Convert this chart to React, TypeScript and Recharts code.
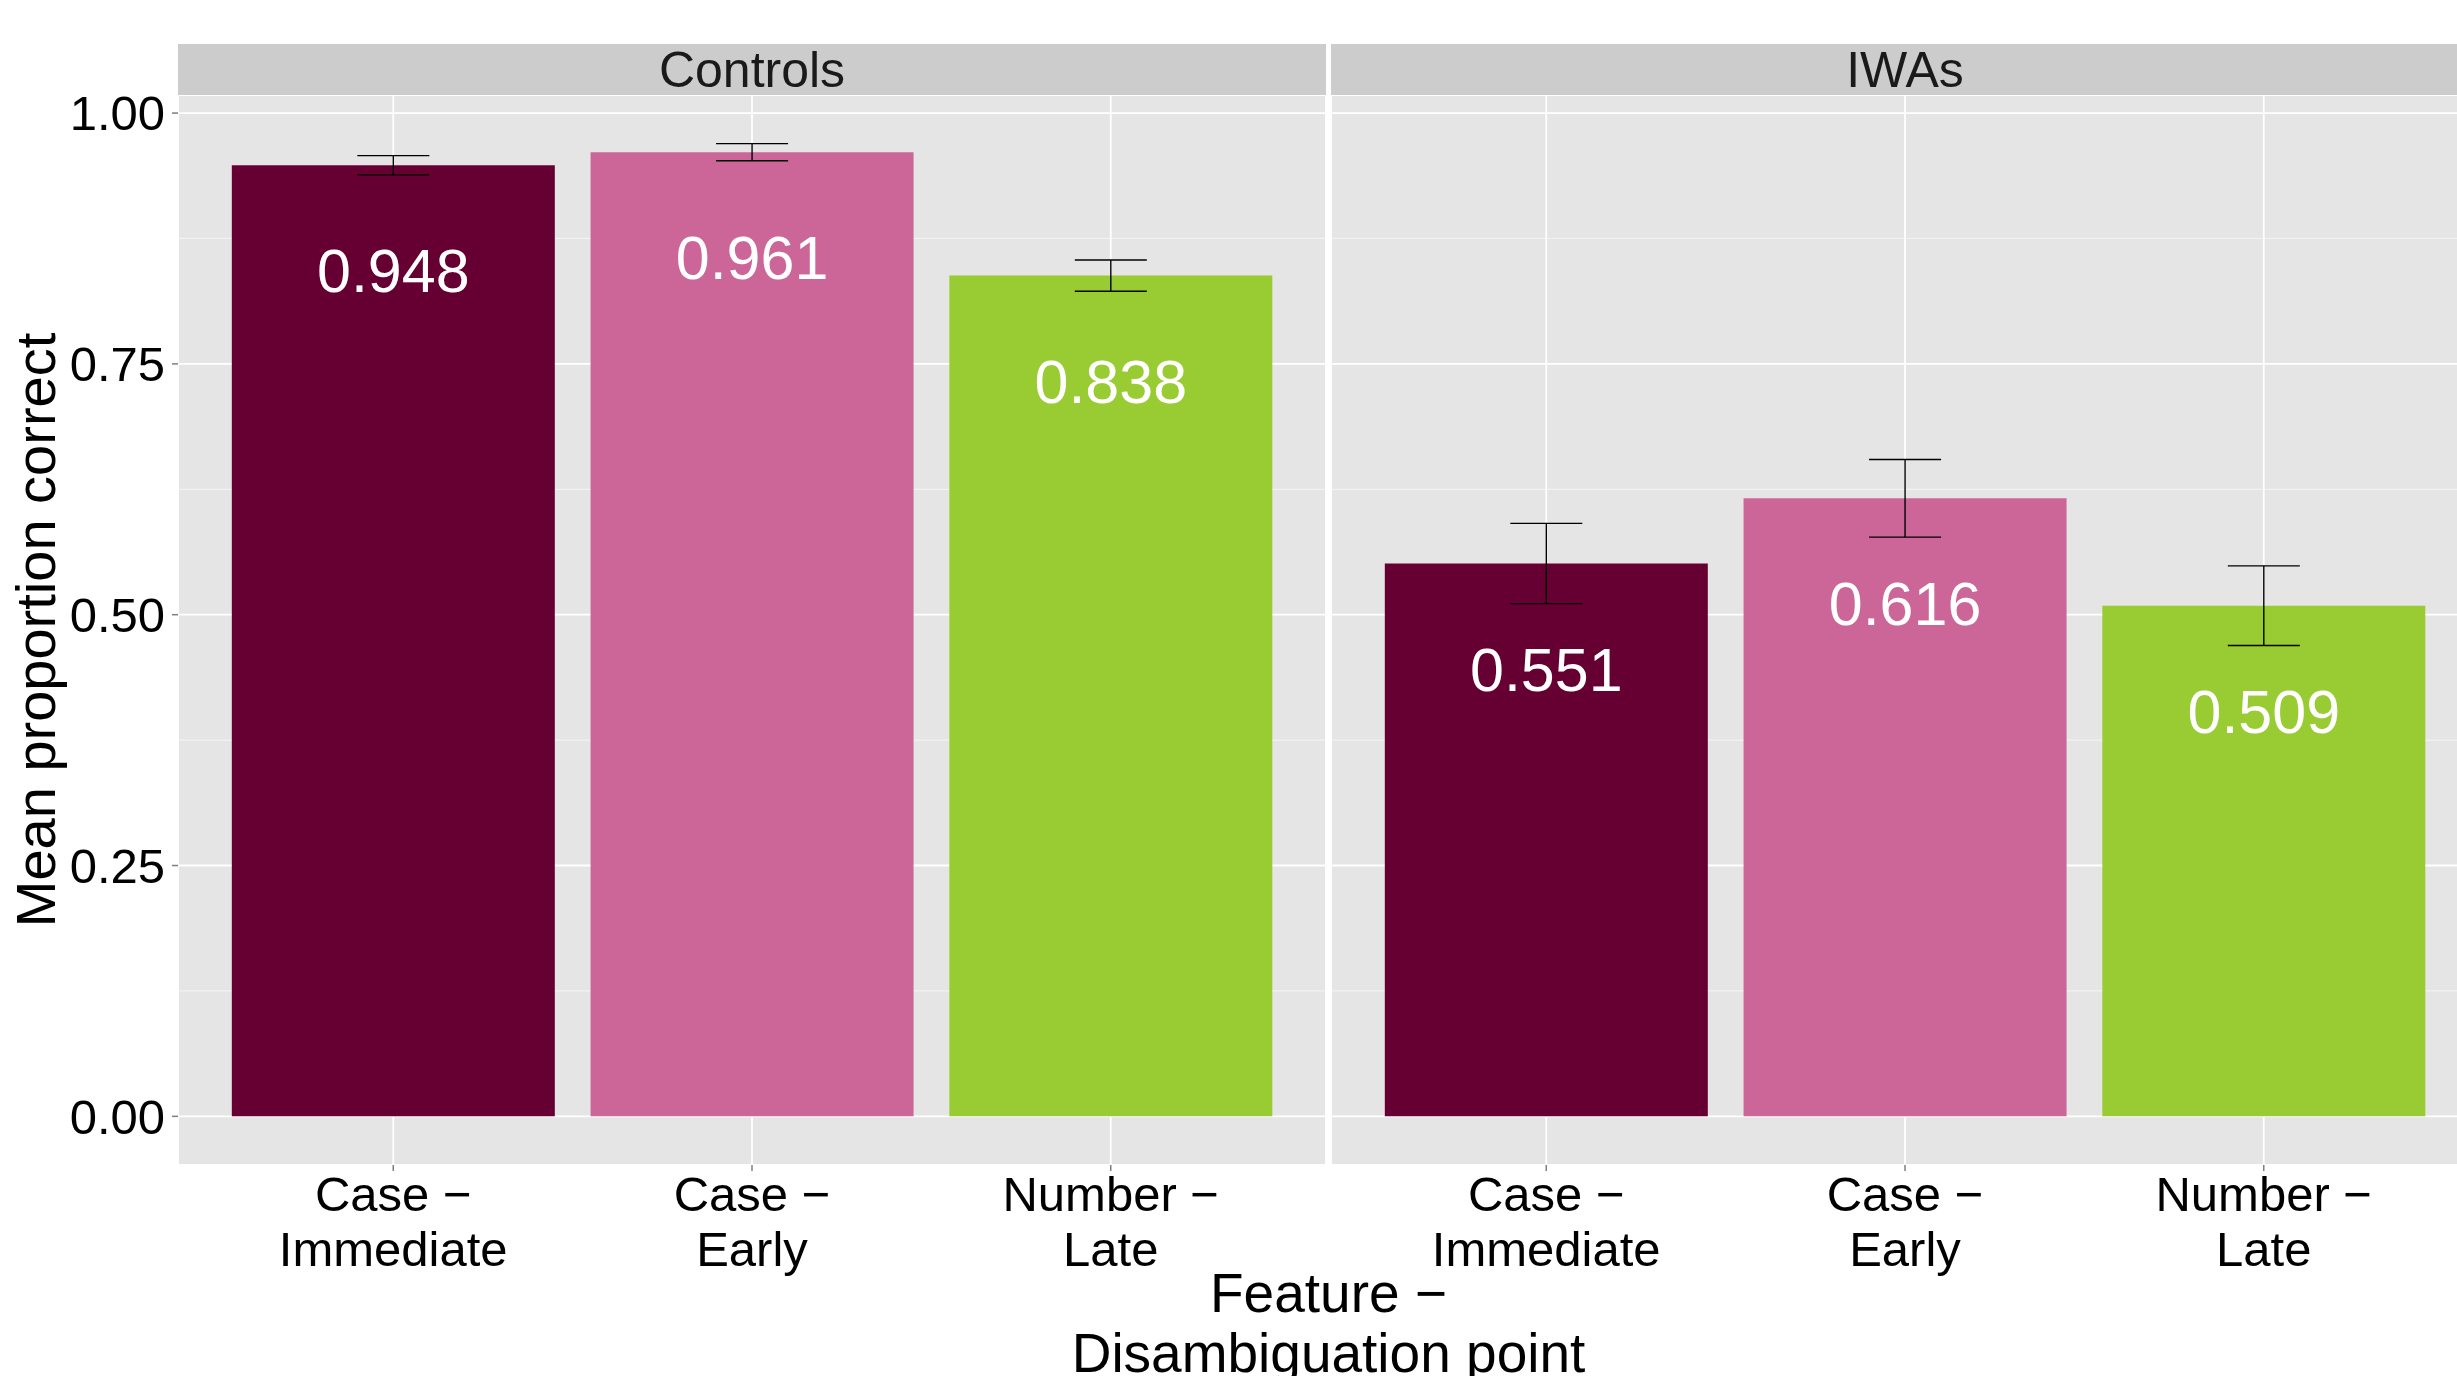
import {
  Bar,
  BarChart,
  CartesianGrid,
  Cell,
  ErrorBar,
  LabelList,
  XAxis,
  YAxis,
} from "recharts";

const features = ["Case −\nImmediate", "Case −\nEarly", "Number −\nLate"];
const groups = ["Controls", "IWAs"];
const controlsMeans = [0.948, 0.961, 0.838];
const controlsErrors = [0.0096, 0.0085, 0.0156];
const iwasMeans = [0.551, 0.616, 0.509];
const iwasErrors = [0.04, 0.0387, 0.0397];
const barColors = ["#660033", "#CC6699", "#99CC33"];
const yTicks = [0, 0.25, 0.5, 0.75, 1];
const yMinorTicks = [0.125, 0.375, 0.625, 0.875];
const yDomain = [-0.0485, 1.018];

const FONT = '"Liberation Sans", Arial, Helvetica, sans-serif';
const W = 2457;
const H = 1376;
const AXIS_W = 178;
const PANEL_W = 1148;
const PANEL_TOP = 95;
const PANEL_BOTTOM = 1165;
const panelLefts = [178, 1331];

const FeatureTick = (props: any) => {
  const { x, y, payload } = props;
  const lines = String(payload.value).split("\n");
  return (
    <text x={x} y={y} textAnchor="middle" fontSize={49} fontFamily={FONT} fill="#000">
      {lines.map((l, i) => (
        <tspan key={i} x={x} dy={i === 0 ? 40 : 55}>
          {l}
        </tspan>
      ))}
    </text>
  );
};

const ValueLabel = (props: any) => {
  const { x, y, width, value } = props;
  return (
    <text
      x={Number(x) + Number(width) / 2}
      y={Number(y) + 127}
      textAnchor="middle"
      fill="#fff"
      fontSize={61}
      fontFamily={FONT}
    >
      {Number(value).toFixed(3)}
    </text>
  );
};

// minor gridlines, placed through the y scale (fallback: linear map of the domain)
const minorLines = (props: any) => {
  const scale = props?.yAxis?.scale;
  if (typeof scale === "function") return yMinorTicks.map((t) => scale(t));
  const off = props?.offset;
  if (!off) return [];
  const span = yDomain[1] - yDomain[0];
  return yMinorTicks.map((t) => off.top + (off.height * (yDomain[1] - t)) / span);
};

const Facet = ({ means, errors, showY }: { means: number[]; errors: number[]; showY: boolean }) => {
  const data = features.map((f, i) => ({ feature: f, mean: means[i], err: errors[i] }));

  return (
    <BarChart
      width={PANEL_W + (showY ? AXIS_W : 0)}
      height={H}
      data={data}
      margin={{ top: PANEL_TOP, right: 0, bottom: 0, left: 0 }}
      barCategoryGap="5%"
    >
      <CartesianGrid
        fill="#E5E5E5"
        stroke="#F2F2F2"
        strokeWidth={1.2}
        vertical={false}
        horizontalCoordinatesGenerator={minorLines}
      />
      <CartesianGrid stroke="#FFFFFF" strokeWidth={1.8} />
      <XAxis
        dataKey="feature"
        height={H - PANEL_BOTTOM}
        padding={{ left: 35.875, right: 35.875 }}
        interval={0}
        tickSize={6}
        tickMargin={0}
        axisLine={false}
        tickLine={{ stroke: "#7F7F7F", strokeWidth: 1.5 }}
        tick={<FeatureTick />}
      />
      <YAxis
        type="number"
        domain={yDomain}
        allowDataOverflow
        ticks={yTicks}
        width={AXIS_W}
        hide={!showY}
        tickFormatter={(v: number) => v.toFixed(2)}
        tick={{ fontSize: 49, fill: "#000", fontFamily: FONT }}
        tickSize={6}
        tickMargin={7}
        axisLine={false}
        tickLine={{ stroke: "#7F7F7F", strokeWidth: 1.5 }}
      />
      <Bar dataKey="mean" isAnimationActive={false}>
        {data.map((d, i) => (
          <Cell key={d.feature} fill={barColors[i]} />
        ))}
        <ErrorBar dataKey="err" width={36} stroke="#000" strokeWidth={1.4} />
        <LabelList dataKey="mean" content={ValueLabel} />
      </Bar>
    </BarChart>
  );
};

const App = () => {
  return (
    <div
      style={{
        position: "absolute",
        left: 0,
        top: 0,
        width: W,
        height: H,
        overflow: "hidden",
        background: "#fff",
      }}
    >
      <div style={{ position: "absolute", left: 0, top: 0 }}>
        <Facet means={controlsMeans} errors={controlsErrors} showY />
      </div>
      <div style={{ position: "absolute", left: panelLefts[1], top: 0 }}>
        <Facet means={iwasMeans} errors={iwasErrors} showY={false} />
      </div>

      <svg
        width={W}
        height={H}
        style={{ position: "absolute", left: 0, top: 0, pointerEvents: "none" }}
        fontFamily={FONT}
      >
        {groups.map((g, i) => (
          <g key={g}>
            <rect x={panelLefts[i]} y={44} width={PANEL_W} height={PANEL_TOP - 44} fill="#CCCCCC" />
            <text x={panelLefts[i] + PANEL_W / 2} y={87} textAnchor="middle" fontSize={50} fill="#1A1A1A">
              {g}
            </text>
          </g>
        ))}
        <text x={1328.5} y={1312} textAnchor="middle" fontSize={55} fill="#000">
          Feature −
        </text>
        <text x={1328.5} y={1372} textAnchor="middle" fontSize={55} fill="#000">
          Disambiguation point
        </text>
        <text
          x={55}
          y={(PANEL_TOP + PANEL_BOTTOM) / 2}
          transform={`rotate(-90, 55, ${(PANEL_TOP + PANEL_BOTTOM) / 2})`}
          textAnchor="middle"
          fontSize={56}
          fill="#000"
        >
          Mean proportion correct
        </text>
      </svg>
    </div>
  );
};

export default App;
